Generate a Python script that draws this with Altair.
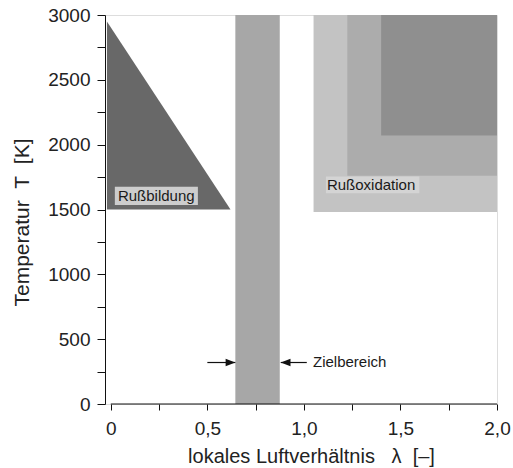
import altair as alt
import pandas as pd

# --- data ---
# Rußbildung triangle (area between upper and lower edge)
tri_x = [-0.02, 0.62]
tri_top = [2950, 1500]
tri_bottom = [1500, 1500]

# Zielbereich band
band_x1 = [0.645]
band_x2 = [0.875]
band_y1 = [0]
band_y2 = [3000]

# Rußoxidation nested regions
ox_x1 = [1.05, 1.225, 1.40]
ox_x2 = [2.0, 2.0, 2.0]
ox_y1 = [1480, 1760, 2070]
ox_y2 = [3000, 3000, 3000]
ox_color = ["#c3c3c3", "#acacac", "#8f8f8f"]

# region labels
labels = ["Rußbildung", "Rußoxidation"]
label_x = [0.037, 1.119]
label_y = [1604, 1688]
box_x1 = [0.021, 1.114]
box_x2 = [0.451, 1.598]
box_y1 = [1534, 1626]
box_y2 = [1675, 1755]

# Zielbereich arrows
arrow_x1 = [0.50, 0.88]
arrow_x2 = [0.645, 1.015]
arrow_tip = [0.645, 0.88]
arrow_y = [320, 320]
target_label = ["Zielbereich"]
target_x = [1.047]
target_y = [322]

# axes
x_ticks = [0, 0.25, 0.5, 0.75, 1.0, 1.25, 1.5, 1.75, 2.0]
y_ticks = list(range(0, 3001, 250))
x_axis_line = [0, 2.0]

FONT = "Liberation Sans"
NB = "\u00a0"

xscale = alt.Scale(domain=[-0.03, 2.0], nice=False, zero=False)
yscale = alt.Scale(domain=[0, 3000], nice=False)

xaxis = alt.Axis(
    values=x_ticks,
    labelExpr="datum.value == 0 ? '0' : ((datum.value * 2) % 1 == 0 ? replace(format(datum.value, '.1f'), '.', ',') : '')",
    domain=False, grid=False,
    tickSize=6, tickColor="#111", tickWidth=1,
    labelFont=FONT, labelFontSize=19, labelColor="#222",
    labelPadding=9, labelFlush=False, labelOverlap=False,
    title="lokales Luftverhältnis" + NB * 3 + "λ" + NB * 2 + "[–]",
    titleFont=FONT, titleFontSize=20, titleFontWeight="normal", titleColor="#222",
    titleX=206, titleY=58, titleBaseline="alphabetic", titleAlign="center", titleAnchor="middle",
)
yaxis = alt.Axis(
    values=y_ticks,
    labelExpr="datum.value % 500 == 0 ? datum.label : ''",
    format="d",
    domain=True, domainColor="#111", domainWidth=1, grid=False,
    tickSize=8, tickColor="#111", tickWidth=1,
    labelFont=FONT, labelFontSize=19, labelColor="#222",
    labelPadding=7, labelOverlap=False,
    title="Temperatur" + NB * 2 + "T" + NB * 2 + "[K]",
    titleFont=FONT, titleFontSize=21, titleFontWeight="normal", titleColor="#222",
    titleX=-77, titleY=207, titleBaseline="alphabetic", titleAlign="center", titleAngle=-90,
)

tri_df = pd.DataFrame({"x": tri_x, "y": tri_top, "y2": tri_bottom})
triangle = alt.Chart(tri_df).mark_area(color="#686868", opacity=1, interpolate="linear").encode(
    x=alt.X("x:Q", scale=xscale, axis=xaxis),
    y=alt.Y("y:Q", scale=yscale, axis=yaxis),
    y2="y2:Q",
)

band_df = pd.DataFrame({"x": band_x1, "x2": band_x2, "y": band_y1, "y2": band_y2})
band = alt.Chart(band_df).mark_rect(color="#a7a7a7").encode(
    x=alt.X("x:Q", scale=xscale, axis=xaxis), x2="x2:Q",
    y=alt.Y("y:Q", scale=yscale, axis=yaxis), y2="y2:Q",
)

ox_df = pd.DataFrame({"x": ox_x1, "x2": ox_x2, "y": ox_y1, "y2": ox_y2, "c": ox_color, "o": [0, 1, 2]})
ox = alt.Chart(ox_df).mark_rect().encode(
    x=alt.X("x:Q", scale=xscale, axis=xaxis), x2="x2:Q",
    y=alt.Y("y:Q", scale=yscale, axis=yaxis), y2="y2:Q",
    color=alt.Color("c:N", scale=None, legend=None),
    order="o:Q",
)

box_df = pd.DataFrame({"x": box_x1, "x2": box_x2, "y": box_y1, "y2": box_y2, "c": ["#cdcdcd", "#d4d4d4"]})
boxes = alt.Chart(box_df).mark_rect().encode(
    x=alt.X("x:Q", scale=xscale, axis=xaxis), x2="x2:Q",
    y=alt.Y("y:Q", scale=yscale, axis=yaxis), y2="y2:Q",
    color=alt.Color("c:N", scale=None, legend=None),
)

lab_df = pd.DataFrame({"x": label_x, "y": label_y, "t": labels})
lab = alt.Chart(lab_df).mark_text(align="left", baseline="middle", font=FONT, fontSize=15, color="#1a1a1a").encode(
    x=alt.X("x:Q", scale=xscale, axis=xaxis),
    y=alt.Y("y:Q", scale=yscale, axis=yaxis),
    text="t:N",
)

axis_df = pd.DataFrame({"x": [x_axis_line[0]], "x2": [x_axis_line[1]], "y": [0]})
xline = alt.Chart(axis_df).mark_rule(color="#111", strokeWidth=1).encode(
    x=alt.X("x:Q", scale=xscale, axis=xaxis), x2="x2:Q",
    y=alt.Y("y:Q", scale=yscale, axis=yaxis),
)

arr_df = pd.DataFrame({"x": arrow_x1, "x2": arrow_x2, "y": arrow_y})
arr_lines = alt.Chart(arr_df).mark_rule(color="#111", strokeWidth=1.2).encode(
    x=alt.X("x:Q", scale=xscale, axis=xaxis), x2="x2:Q",
    y=alt.Y("y:Q", scale=yscale, axis=yaxis),
)
head_df = pd.DataFrame({"x": arrow_tip, "y": arrow_y,
                        "s": ["M0,0 L-1,-0.38 L-1,0.38 Z", "M0,0 L1,-0.38 L1,0.38 Z"]})
heads = alt.Chart(head_df).mark_point(filled=True, color="#111", opacity=1, size=380, strokeWidth=0).encode(
    x=alt.X("x:Q", scale=xscale, axis=xaxis),
    y=alt.Y("y:Q", scale=yscale, axis=yaxis),
    shape=alt.Shape("s:N", scale=None, legend=None),
)

tgt_df = pd.DataFrame({"x": target_x, "y": target_y, "t": target_label})
tgt = alt.Chart(tgt_df).mark_text(align="left", baseline="middle", font=FONT, fontSize=15, color="#1a1a1a").encode(
    x=alt.X("x:Q", scale=xscale, axis=xaxis),
    y=alt.Y("y:Q", scale=yscale, axis=yaxis),
    text="t:N",
)

chart = alt.layer(band, ox, triangle, boxes, lab, xline, arr_lines, heads, tgt).properties(
    width=392, height=389,
    autosize=alt.AutoSizeParams(type="none"),
    padding={"left": 105, "top": 15, "right": 16, "bottom": 64},
).configure_view(stroke=None).configure(background="white")

chart.save("out.html", embed_options={"renderer": "svg", "actions": False})
